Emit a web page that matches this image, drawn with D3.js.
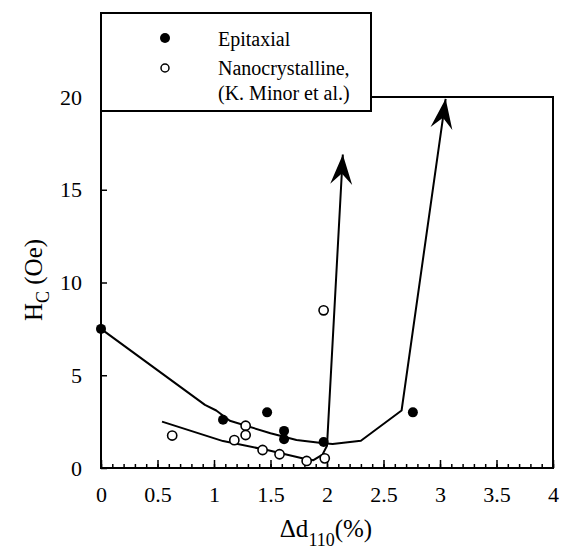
<!DOCTYPE html>
<html>
<head>
<meta charset="utf-8">
<script src="https://cdn.jsdelivr.net/npm/d3@7"></script>
<style>
  body { margin: 0; background: #fff; }
</style>
</head>
<body>
<svg id="chart"></svg>
<script>
var epiX = [0, 1.08, 1.47, 1.62, 1.62, 1.97, 2.76];
var epiY = [7.5, 2.6, 3.0, 2.0, 1.55, 1.4, 3.0];
var nanoX = [0.63, 1.18, 1.28, 1.28, 1.43, 1.58, 1.82, 1.98, 1.97];
var nanoY = [1.75, 1.5, 2.28, 1.78, 0.97, 0.74, 0.38, 0.52, 8.5];

// guide lines drawn through the data, ending in arrows
var epiLineX = [0, 0.92, 1.02, 1.14, 1.5, 1.73, 1.97, 2.05, 2.3, 2.66, 3.05];
var epiLineY = [7.5, 3.4, 3.1, 2.55, 1.87, 1.51, 1.33, 1.3, 1.47, 3.1, 19.9];
var nanoLineX = [0.54, 1.08, 1.47, 1.8, 1.88, 1.96, 2.0, 2.14];
var nanoLineY = [2.5, 1.45, 0.97, 0.5, 0.42, 0.72, 1.2, 16.9];

var xTicks = [0, 0.5, 1, 1.5, 2, 2.5, 3, 3.5, 4];
var xMinor = d3.range(0, 41).map(function(d) { return d / 10; });
var yTicks = [0, 5, 10, 15, 20];

var serif = "'Liberation Serif', 'Times New Roman', Times, 'DejaVu Serif', serif";

var margin = {top: 97, right: 8, bottom: 82, left: 101},
    width = 561 - margin.left - margin.right,
    height = 550 - margin.top - margin.bottom;

var root = d3.select("#chart")
    .attr("width", 561)
    .attr("height", 550)
    .attr("font-family", serif);

var svg = root.append("g")
    .attr("transform", "translate(" + margin.left + "," + margin.top + ")");

var x = d3.scaleLinear().domain([0, 4]).range([0, width]);
var y = d3.scaleLinear().domain([0, 20]).range([height, 0]);

// arrow head
root.append("defs").append("marker")
    .attr("id", "arrow")
    .attr("viewBox", "-32 -12 34 24")
    .attr("refX", 0)
    .attr("refY", 0)
    .attr("markerWidth", 34)
    .attr("markerHeight", 24)
    .attr("markerUnits", "userSpaceOnUse")
    .attr("orient", "auto")
    .append("path")
    .attr("d", "M0,0 L-30,-11 L-19,0 L-30,11 Z")
    .attr("fill", "#000");

// frame
svg.append("rect")
    .attr("width", width)
    .attr("height", height)
    .attr("fill", "none")
    .attr("stroke", "#000")
    .attr("stroke-width", 2);

// minor ticks on x
svg.append("g")
    .attr("transform", "translate(0," + height + ")")
    .call(d3.axisBottom(x).tickValues(xMinor).tickSize(-4).tickFormat(""))
    .call(function(g) { g.select(".domain").remove(); })
    .selectAll("line").attr("stroke-width", 1.5);

// X axis
var xAxis = svg.append("g")
    .attr("transform", "translate(0," + height + ")")
    .call(d3.axisBottom(x).tickValues(xTicks).tickSize(-8).tickPadding(18)
        .tickFormat(function(d) { return d; }));
xAxis.attr("font-family", serif).attr("font-size", 22);
xAxis.select(".domain").remove();
xAxis.selectAll("line").attr("stroke-width", 1.5);

// Y axis
var yAxis = svg.append("g")
    .call(d3.axisLeft(y).tickValues(yTicks).tickSize(-6).tickPadding(19)
        .tickFormat(function(d) { return d; }));
yAxis.attr("font-family", serif).attr("font-size", 22);
yAxis.select(".domain").remove();
yAxis.selectAll("line").attr("stroke-width", 1.5);

// axis titles
var yTitle = root.append("text")
    .attr("transform", "translate(42,280) rotate(-90)")
    .attr("text-anchor", "middle")
    .attr("font-size", 25);
yTitle.append("tspan").text("H");
yTitle.append("tspan").attr("font-size", 18).attr("dy", 7).text("C");
yTitle.append("tspan").attr("dy", -7).text(" (Oe)");

var xTitle = root.append("text")
    .attr("x", 326)
    .attr("y", 537)
    .attr("text-anchor", "middle")
    .attr("font-size", 25);
xTitle.append("tspan").text("\u0394d");
xTitle.append("tspan").attr("font-size", 18).attr("dy", 9).text("110");
xTitle.append("tspan").attr("dy", -9).text("(%)");

// guide lines
var line = d3.line()
    .x(function(d) { return x(d[0]); })
    .y(function(d) { return y(d[1]); });

[[epiLineX, epiLineY], [nanoLineX, nanoLineY]].forEach(function(s) {
    svg.append("path")
        .datum(d3.zip(s[0], s[1]))
        .attr("fill", "none")
        .attr("stroke", "#000")
        .attr("stroke-width", 2)
        .attr("stroke-linejoin", "round")
        .attr("marker-end", "url(#arrow)")
        .attr("d", line);
});

// points
svg.selectAll(".nano")
    .data(d3.zip(nanoX, nanoY))
    .enter().append("circle")
    .attr("class", "nano")
    .attr("cx", function(d) { return x(d[0]); })
    .attr("cy", function(d) { return y(d[1]); })
    .attr("r", 4.6)
    .attr("fill", "#fff")
    .attr("stroke", "#000")
    .attr("stroke-width", 1.6);

svg.selectAll(".epi")
    .data(d3.zip(epiX, epiY))
    .enter().append("circle")
    .attr("class", "epi")
    .attr("cx", function(d) { return x(d[0]); })
    .attr("cy", function(d) { return y(d[1]); })
    .attr("r", 5)
    .attr("fill", "#000");

// legend box sits over the top-left corner of the frame
var legend = root.append("g");
legend.append("rect")
    .attr("x", 101)
    .attr("y", 13)
    .attr("width", 270)
    .attr("height", 98)
    .attr("fill", "#fff")
    .attr("stroke", "#000")
    .attr("stroke-width", 2);
legend.append("circle")
    .attr("cx", 165).attr("cy", 38).attr("r", 5).attr("fill", "#000");
legend.append("circle")
    .attr("cx", 165).attr("cy", 68).attr("r", 4)
    .attr("fill", "#fff").attr("stroke", "#000").attr("stroke-width", 1.5);
legend.append("text").attr("x", 218).attr("y", 46).attr("font-size", 20).text("Epitaxial");
legend.append("text").attr("x", 218).attr("y", 75).attr("font-size", 20).text("Nanocrystalline,");
legend.append("text").attr("x", 218).attr("y", 100).attr("font-size", 20).text("(K. Minor et al.)");
</script>
</body>
</html>
